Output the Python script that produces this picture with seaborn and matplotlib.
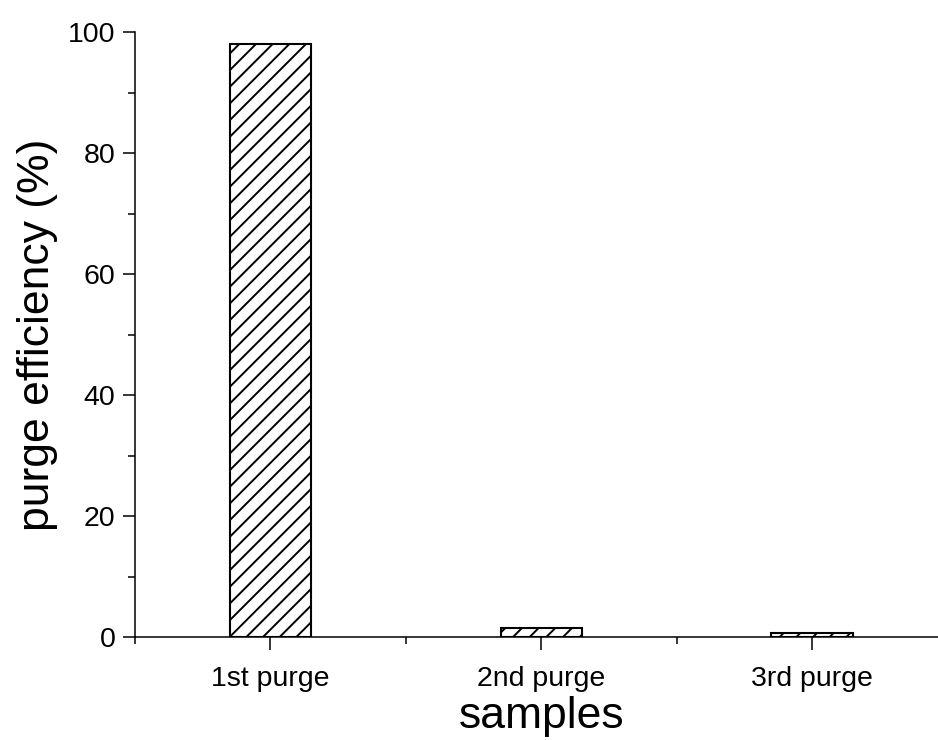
import matplotlib
matplotlib.use("Agg")
import matplotlib.pyplot as plt
from matplotlib.ticker import MultipleLocator, FixedLocator
import seaborn as sns
import pandas as pd

categories = ["1st purge", "2nd purge", "3rd purge"]
efficiency = [98.0, 1.5, 0.6]

sns.set_style("ticks")
plt.rcParams["font.family"] = ["Liberation Sans", "DejaVu Sans"]
plt.rcParams["hatch.linewidth"] = 1.4
plt.rcParams["hatch.color"] = "black"
plt.rcParams["text.color"] = "black"
plt.rcParams["axes.labelcolor"] = "black"

df = pd.DataFrame({"samples": categories, "eff": efficiency})

fig = plt.figure(figsize=(9.38, 7.4), dpi=100)
ax = fig.add_axes([135 / 938, 1 - 637 / 740, (947.5 - 135) / 938, (637 - 32) / 740])

sns.barplot(data=df, x="samples", y="eff", ax=ax, width=0.3, color="white",
            edgecolor="black", linewidth=1.5, hatch="//", saturation=1)

ax.set_xlim(-0.5, 2.5)
ax.set_ylim(0, 100)
ax.yaxis.set_major_locator(MultipleLocator(20))
ax.yaxis.set_minor_locator(MultipleLocator(10))
ax.xaxis.set_minor_locator(FixedLocator([-0.5, 0.5, 1.5, 2.5]))

for s in ["top", "right"]:
    ax.spines[s].set_visible(False)
for s in ["left", "bottom"]:
    ax.spines[s].set_linewidth(1.1)
    ax.spines[s].set_color("black")

ax.tick_params(axis="both", which="major", length=9, width=1.1, labelsize=20.5,
               direction="out", color="black", labelcolor="black")
ax.tick_params(axis="both", which="minor", length=5, width=1.1, direction="out", color="black")
ax.tick_params(axis="y", which="major", pad=5)
ax.tick_params(axis="x", which="major", pad=12)

ax.set_xlabel("samples", fontsize=32, labelpad=3, color="black")
ax.set_ylabel("purge efficiency (%)", fontsize=32, labelpad=7, color="black")

fig.savefig("out.png", dpi=100)
